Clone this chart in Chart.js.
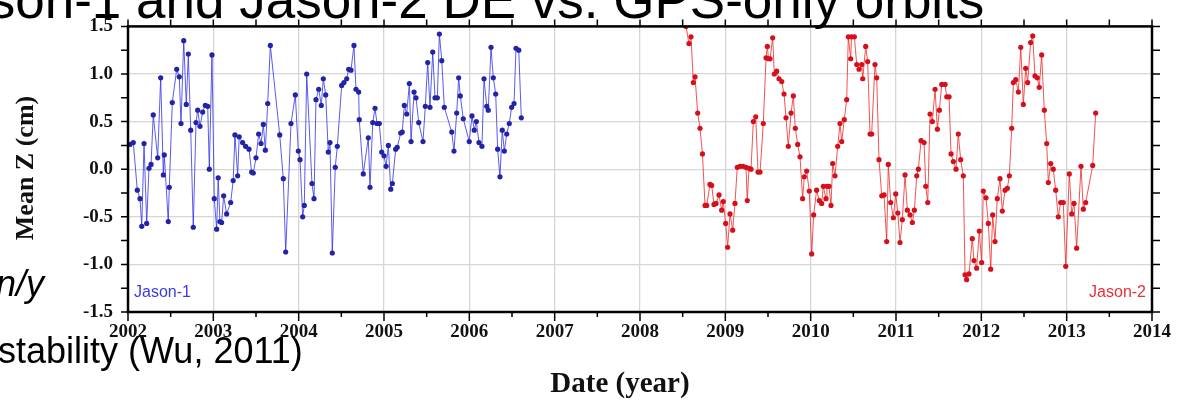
<!DOCTYPE html>
<html>
<head>
<meta charset="utf-8">
<style>
  html, body { margin: 0; padding: 0; background: #fff; }
  #wrap { width: 1180px; height: 402px; }
</style>
<script src="https://cdn.jsdelivr.net/npm/chart.js@4/dist/chart.umd.min.js"></script>
</head>
<body>
<div id="wrap"><canvas id="chart" width="1180" height="402"></canvas></div>
<script>
// ── tick labels
const yearTicks = [2002, 2003, 2004, 2005, 2006, 2007, 2008, 2009, 2010, 2011, 2012, 2013, 2014];
const zTicks = [-1.5, -1.0, -0.5, 0.0, 0.5, 1.0, 1.5];

// ── Jason-1 (decimal year, mean Z in cm)
const j1Years = [
  2002.023, 2002.062, 2002.109, 2002.141, 2002.161, 2002.188, 2002.219, 2002.246, 2002.270, 2002.296,
  2002.348, 2002.383, 2002.414, 2002.425, 2002.472, 2002.484, 2002.519, 2002.571, 2002.601, 2002.621,
  2002.653, 2002.683, 2002.707, 2002.735, 2002.765, 2002.797, 2002.817, 2002.844, 2002.875, 2002.906,
  2002.934, 2002.953, 2002.984, 2003.011, 2003.039, 2003.057, 2003.077, 2003.097, 2003.121, 2003.156,
  2003.203, 2003.233, 2003.253, 2003.285, 2003.303, 2003.343, 2003.378, 2003.418, 2003.449, 2003.468,
  2003.500, 2003.531, 2003.559, 2003.586, 2003.609, 2003.637, 2003.668, 2003.778, 2003.820, 2003.848,
  2003.910, 2003.961, 2003.996, 2004.016, 2004.047, 2004.066, 2004.094, 2004.156, 2004.180, 2004.203,
  2004.235, 2004.265, 2004.289, 2004.317, 2004.347, 2004.367, 2004.394, 2004.429, 2004.453, 2004.504,
  2004.531, 2004.563, 2004.586, 2004.613, 2004.648, 2004.672, 2004.703, 2004.710, 2004.757, 2004.816,
  2004.836, 2004.868, 2004.895, 2004.918, 2004.945, 2004.973, 2005.000, 2005.024, 2005.051, 2005.079,
  2005.098, 2005.137, 2005.155, 2005.196, 2005.214, 2005.238, 2005.266, 2005.297, 2005.317, 2005.352,
  2005.375, 2005.407, 2005.457, 2005.484, 2005.512, 2005.539, 2005.571, 2005.598, 2005.625, 2005.649,
  2005.677, 2005.707, 2005.794, 2005.820, 2005.852, 2005.875, 2005.894, 2005.929, 2005.999, 2006.031,
  2006.058, 2006.082, 2006.113, 2006.148, 2006.172, 2006.204, 2006.222, 2006.254, 2006.281, 2006.309,
  2006.332, 2006.359, 2006.386, 2006.410, 2006.438, 2006.468, 2006.496, 2006.524, 2006.547, 2006.579,
  2006.609
];
const j1Z = [
  0.26, 0.28, -0.22, -0.31, -0.60, 0.27, -0.57, 0.01, 0.05, 0.57,
  0.12, 0.96, -0.06, 0.15, -0.55, -0.19, 0.70, 1.05, 0.97, 0.48,
  1.35, 0.68, 1.21, 0.41, -0.61, 0.49, 0.62, 0.45, 0.60, 0.67,
  0.66, 0.00, 1.20, -0.31, -0.63, -0.09, -0.55, -0.56, -0.28, -0.47,
  -0.35, -0.12, 0.36, -0.07, 0.34, 0.28, 0.24, 0.21, -0.03, -0.04,
  0.12, 0.37, 0.27, 0.47, 0.20, 0.69, 1.30, 0.36, -0.10, -0.87,
  0.48, 0.78, 0.19, 0.10, -0.50, -0.38, 1.00, -0.15, -0.31, 0.73,
  0.84, 0.67, 0.95, 0.78, 0.18, 0.28, -0.88, 0.02, 0.24, 0.88,
  0.91, 0.95, 1.05, 1.04, 1.30, 0.84, 0.81, 0.52, -0.05, 0.33,
  -0.19, 0.49, 0.64, 0.48, 0.48, 0.18, 0.14, 0.03, 0.25, -0.21,
  -0.15, 0.21, 0.23, 0.38, 0.39, 0.67, 0.58, 0.90, 0.29, 0.81,
  0.75, 0.49, 0.29, 0.66, 1.12, 0.65, 1.23, 0.75, 0.75, 1.42,
  1.14, 0.65, 0.39, 0.19, 0.59, 0.96, 0.77, 0.53, 0.29, 0.56,
  0.41, 0.50, 0.28, 0.24, 0.95, 0.66, 0.62, 1.28, 0.96, 0.79,
  0.21, -0.08, 0.41, 0.19, 0.37, 0.48, 0.65, 0.69, 1.27, 1.25,
  0.54
];

// ── Jason-2
const j2Years = [
  2008.539, 2008.574, 2008.598, 2008.625, 2008.645, 2008.676, 2008.703, 2008.732, 2008.762, 2008.782,
  2008.820, 2008.840, 2008.867, 2008.891, 2008.926, 2008.957, 2008.976, 2009.004, 2009.027, 2009.055,
  2009.086, 2009.113, 2009.140, 2009.172, 2009.207, 2009.242, 2009.257, 2009.277, 2009.301, 2009.328,
  2009.356, 2009.383, 2009.407, 2009.445, 2009.477, 2009.492, 2009.506, 2009.524, 2009.555, 2009.574,
  2009.602, 2009.629, 2009.661, 2009.688, 2009.711, 2009.738, 2009.770, 2009.797, 2009.820, 2009.848,
  2009.875, 2009.906, 2009.925, 2009.953, 2009.984, 2010.012, 2010.035, 2010.070, 2010.101, 2010.129,
  2010.148, 2010.180, 2010.191, 2010.215, 2010.238, 2010.258, 2010.285, 2010.317, 2010.344, 2010.364,
  2010.394, 2010.422, 2010.441, 2010.469, 2010.479, 2010.512, 2010.540, 2010.567, 2010.598, 2010.610,
  2010.645, 2010.668, 2010.696, 2010.715, 2010.754, 2010.774, 2010.801, 2010.833, 2010.860, 2010.891,
  2010.910, 2010.938, 2010.969, 2010.997, 2011.021, 2011.047, 2011.074, 2011.106, 2011.133, 2011.165,
  2011.192, 2011.215, 2011.243, 2011.262, 2011.294, 2011.329, 2011.349, 2011.372, 2011.399, 2011.426,
  2011.458, 2011.485, 2011.508, 2011.536, 2011.575, 2011.595, 2011.622, 2011.645, 2011.672, 2011.703,
  2011.730, 2011.758, 2011.789, 2011.809, 2011.828, 2011.855, 2011.894, 2011.914, 2011.945, 2011.976,
  2012.004, 2012.023, 2012.055, 2012.082, 2012.110, 2012.133, 2012.160, 2012.187, 2012.219, 2012.246,
  2012.278, 2012.305, 2012.328, 2012.356, 2012.375, 2012.403, 2012.434, 2012.462, 2012.492, 2012.520,
  2012.543, 2012.578, 2012.602, 2012.629, 2012.656, 2012.679, 2012.707, 2012.738, 2012.766, 2012.785,
  2012.813, 2012.843, 2012.871, 2012.902, 2012.930, 2012.960, 2012.989, 2013.031, 2013.059, 2013.086,
  2013.117, 2013.168, 2013.195, 2013.223, 2013.305, 2013.340
];
const j2Z = [
  1.50, 1.32, 1.39, 0.91, 0.97, 0.59, 0.43, 0.16, -0.38, -0.38,
  -0.16, -0.17, -0.37, -0.36, -0.27, -0.43, -0.34, -0.57, -0.82, -0.47,
  -0.64, -0.36, 0.02, 0.03, 0.03, 0.02, -0.33, 0.01, 0.00, 0.50,
  0.55, -0.03, -0.03, 0.48, 1.17, 1.29, 1.16, 1.16, 1.38, 1.00,
  1.03, 0.95, 0.92, 0.79, 0.54, 0.24, 0.59, 0.77, 0.43, 0.26,
  0.13, -0.31, -0.08, -0.02, -0.23, -0.89, -0.48, -0.22, -0.33, -0.36,
  -0.18, -0.31, -0.18, -0.18, -0.38, 0.06, -0.07, 0.24, 0.48, 0.29,
  0.52, 0.73, 1.39, 1.16, 1.39, 1.39, 1.10, 1.05, 1.10, 0.95,
  1.29, 1.13, 0.37, 0.37, 1.10, 0.96, 0.10, -0.28, -0.27, -0.76,
  0.05, -0.35, -0.51, -0.26, -0.46, -0.77, -0.53, -0.06, -0.43, -0.48,
  -0.56, -0.43, -0.07, 0.00, 0.30, 0.28, -0.18, -0.35, 0.58, 0.50,
  0.84, 0.42, 0.62, 0.89, 0.89, 0.76, 0.76, 0.16, 0.08, 0.00,
  0.37, 0.10, -0.07, -1.11, -1.16, -1.10, -0.73, -0.96, -1.04, -0.65,
  -0.98, -0.23, -0.30, -0.57, -1.05, -0.48, -0.76, -0.31, -0.10, -0.44,
  -0.22, -0.20, -0.07, 0.43, 0.91, 0.94, 0.81, 1.28, 0.68, 1.06,
  0.91, 1.33, 1.40, 0.98, 0.96, 0.86, 1.20, 0.62, 0.27, -0.14,
  0.06, 0.00, -0.22, -0.50, -0.35, -0.35, -1.02, -0.05, -0.47, -0.36,
  -0.83, 0.03, -0.42, -0.35, 0.04, 0.59
];

const toPoints = (xs, ys) => xs.map((x, i) => ({ x, y: ys[i] }));
const tickFont = { family: "'Liberation Serif', 'Times New Roman', serif", size: 19, weight: 'bold' };

// ── frame, minor ticks and slide text around the plot
const decorations = {
  id: 'decorations',
  afterDraw(chart) {
    const { ctx, chartArea: a, scales: { x, y } } = chart;
    ctx.save();
    ctx.strokeStyle = '#000';
    ctx.lineWidth = 1.5;
    ctx.beginPath();
    for (let t = yearTicks[0]; t <= yearTicks[yearTicks.length - 1]; t += 0.5) {
      const px = x.getPixelForValue(t);
      const major = Number.isInteger(t);
      ctx.moveTo(px, a.bottom); ctx.lineTo(px, a.bottom + (major ? 9 : 5));
      ctx.moveTo(px, a.top); ctx.lineTo(px, a.top - 7);
    }
    for (let v = zTicks[0]; v <= zTicks[zTicks.length - 1] + 1e-9; v += 0.25) {
      const py = y.getPixelForValue(v);
      ctx.moveTo(a.left, py); ctx.lineTo(a.left - 7, py);
      ctx.moveTo(a.right, py); ctx.lineTo(a.right + 8, py);
    }
    ctx.stroke();
    ctx.lineWidth = 2.5;
    ctx.strokeRect(a.left, a.top, a.right - a.left, a.bottom - a.top);

    // series names
    ctx.font = '16px "Liberation Sans", Arial, sans-serif';
    ctx.textBaseline = 'alphabetic';
    ctx.fillStyle = '#3b3be6';
    ctx.textAlign = 'left';
    ctx.fillText('Jason-1', a.left + 6, a.bottom - 15);
    ctx.fillStyle = '#e8303c';
    ctx.textAlign = 'right';
    ctx.fillText('Jason-2', a.right - 6, a.bottom - 15);

    // axis titles
    ctx.fillStyle = '#111';
    ctx.font = 'bold 29px "Liberation Serif", "Times New Roman", serif';
    ctx.textAlign = 'center';
    ctx.textBaseline = 'middle';
    ctx.fillText('Date (year)', 620, 385);
    ctx.font = 'bold 26px "Liberation Serif", "Times New Roman", serif';
    ctx.save();
    ctx.translate(26, 168);
    ctx.rotate(-Math.PI / 2);
    ctx.fillText('Mean Z (cm)', 0, 0);
    ctx.restore();

    // slide text that overlaps the figure
    ctx.fillStyle = '#000';
    ctx.textAlign = 'left';
    ctx.textBaseline = 'alphabetic';
    ctx.font = '53px "Liberation Sans", Arial, sans-serif';
    const lead = ctx.measureText('Jason-1 ').width;
    ctx.fillText('Jason-1 and Jason-2 DE vs. GPS-only orbits', 136 - lead, 18);
    ctx.font = 'italic 36px "Liberation Sans", Arial, sans-serif';
    ctx.fillText('n/y', -4, 296);
    ctx.font = '36px "Liberation Sans", Arial, sans-serif';
    ctx.fillText('stability (Wu, 2011)', -2, 363);
    ctx.restore();
  }
};

new Chart(document.getElementById('chart'), {
  type: 'scatter',
  data: {
    datasets: [
      {
        label: 'Jason-1',
        data: toPoints(j1Years, j1Z),
        showLine: true,
        borderColor: 'rgba(50,50,235,0.8)',
        borderWidth: 1,
        backgroundColor: '#2323a8',
        pointRadius: 2.6,
        pointBorderWidth: 0
      },
      {
        label: 'Jason-2',
        data: toPoints(j2Years, j2Z),
        showLine: true,
        borderColor: 'rgba(240,40,40,0.8)',
        borderWidth: 1,
        backgroundColor: '#d3101c',
        pointRadius: 2.6,
        pointBorderWidth: 0
      }
    ]
  },
  options: {
    responsive: false,
    animation: false,
    devicePixelRatio: 1,
    layout: { padding: { top: 19, right: 28, left: 0, bottom: 0 } },
    plugins: { legend: { display: false }, tooltip: { enabled: false } },
    scales: {
      x: {
        type: 'linear', min: 2002, max: 2014,
        afterBuildTicks: s => { s.ticks = yearTicks.map(v => ({ value: v })); },
        afterFit: s => { s.height = 90; },
        ticks: { autoSkip: false, maxRotation: 0, padding: 9, font: tickFont, color: '#111', callback: v => String(v) },
        grid: { color: '#d6d6d6', lineWidth: 1.3, drawTicks: false },
        border: { display: false }
      },
      y: {
        min: -1.5, max: 1.5,
        afterBuildTicks: s => { s.ticks = zTicks.map(v => ({ value: v })); },
        afterFit: s => { s.width = 128; },
        ticks: { padding: 15, font: tickFont, color: '#111', callback: v => v.toFixed(1) },
        grid: { color: '#d6d6d6', lineWidth: 1.3, drawTicks: false },
        border: { display: false }
      }
    }
  },
  plugins: [decorations]
});
</script>
</body>
</html>
